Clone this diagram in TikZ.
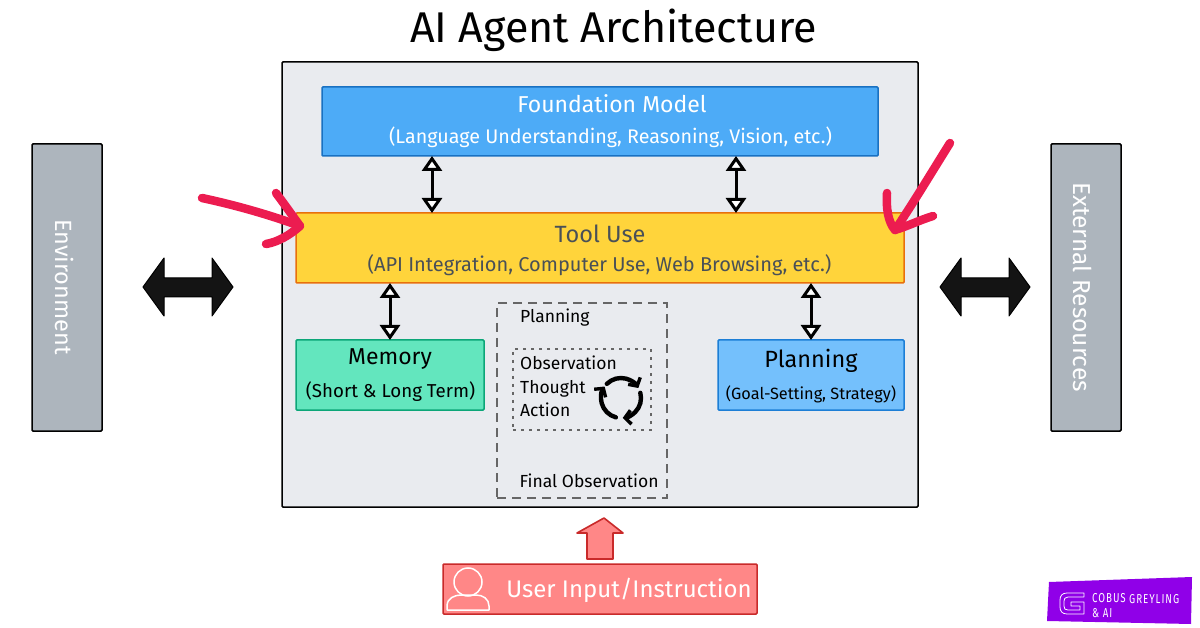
\documentclass[tikz,border=0pt]{standalone}
\usepackage{fontspec}
\setmainfont{Fira Sans}
\newfontfamily\badgefont{Fira Sans}
\usetikzlibrary{arrows.meta,shapes.arrows,calc}
\definecolor{panel}{HTML}{E9EBEF}
\definecolor{fmfill}{HTML}{4DABF7}
\definecolor{fmline}{HTML}{1971C2}
\definecolor{toolfill}{HTML}{FFD43B}
\definecolor{toolline}{HTML}{E8700C}
\definecolor{memfill}{HTML}{63E6BE}
\definecolor{memline}{HTML}{0CA678}
\definecolor{planfill}{HTML}{74C0FC}
\definecolor{planline}{HTML}{1C7ED6}
\definecolor{sidefill}{HTML}{ADB5BD}
\definecolor{userfill}{HTML}{FF8787}
\definecolor{userline}{HTML}{C92A2A}
\definecolor{hand}{HTML}{EC1C50}
\definecolor{greytext}{HTML}{495057}
\definecolor{badge}{HTML}{9000E8}
\newcommand{\fs}[1]{\fontsize{#1}{#1}\selectfont}
\tikzset{
  x=1pt,y=-1pt,
  boxnode/.style={draw,line width=1.5pt,rounded corners=1pt,inner sep=0pt,outer sep=0pt,anchor=north west},
  twoway/.style={line width=3pt,black,{Triangle[open,fill=white,length=15pt,width=20pt,line width=3pt]}-{Triangle[open,fill=white,length=15pt,width=20pt,line width=3pt]}},
  blockarrow/.style={draw=black,fill=black!92,line width=1pt,line join=round},
  handstroke/.style={draw=hand,line width=8.5pt,line cap=round,line join=round},
  tag/.style={inner sep=0pt,anchor=base west},
  cycle/.style={line width=4.4pt,black,line cap=round,-{Straight Barb[length=6pt,width=14pt,line width=3.4pt]}},
}
\begin{document}
\begin{tikzpicture}
\useasboundingbox (0,0) rectangle (1200,628);
\fill[white] (0,0) rectangle (1200,628);
\node[inner sep=0pt] (title) at (613.5,30) {\fs{43}AI Agent Architecture};

\node[boxnode,draw=black,fill=panel,minimum width=636pt,minimum height=445pt] (panel) at (282,62) {};
\node[boxnode,draw=fmline,fill=fmfill,minimum width=556pt,minimum height=69pt] (foundation) at (322,87) {};
\node[inner sep=0pt,white] (fmA) at (612,104) {\fs{23}Foundation Model};
\node[inner sep=0pt,white] (fmB) at (610.5,137.5) {\fs{19.7}(Language Understanding, Reasoning, Vision, etc.)};

\node[boxnode,draw=toolline,fill=toolfill,minimum width=608pt,minimum height=70pt] (tool) at (296,213) {};
\node[inner sep=0pt,greytext] (toolA) at (600,234) {\fs{23.5}Tool Use};
\node[inner sep=0pt,greytext] (toolB) at (599.5,265) {\fs{20}(API Integration, Computer Use, Web Browsing, etc.)};

\node[boxnode,draw=memline,fill=memfill,minimum width=188pt,minimum height=70pt] (memory) at (296,340) {};
\node[inner sep=0pt] (memA) at (390,359) {\fs{23}Memory};
\node[inner sep=0pt] (memB) at (390.5,392) {\fs{18.7}(Short \& Long Term)};

\node[boxnode,draw=planline,fill=planfill,minimum width=186pt,minimum height=70pt] (planbox) at (718,340) {};
\node[inner sep=0pt] (planA) at (811,361) {\fs{23.5}Planning};
\node[inner sep=0pt] (planB) at (811,394) {\fs{16.3}(Goal-Setting, Strategy)};

\node[draw=black!60,dash pattern=on 9pt off 6pt,line width=1.8pt,inner sep=0pt,outer sep=0pt,anchor=north west,minimum width=170pt,minimum height=195pt] (outer) at (497,303) {};
\node[draw=black!60,dash pattern=on 3pt off 5pt,line width=1.6pt,inner sep=0pt,outer sep=0pt,anchor=north west,minimum width=138pt,minimum height=81pt] (inner) at (513,349) {};
\node[tag] (t1) at (520,323) {\fs{17.5}Planning};
\node[tag] (t2) at (520,370) {\fs{17.5}Observation};
\node[tag] (t3) at (520,393) {\fs{17.5}Thought};
\node[tag] (t4) at (520,416) {\fs{17.5}Action};
\node[tag] (t5) at (519.5,487) {\fs{17.5}Final Observation};

\begin{scope}[shift={(621,398)},x=1pt,y=1pt]
\draw[cycle] (135:20pt) arc[start angle=135,end angle=30,radius=20pt];
\draw[cycle] (15:20pt) arc[start angle=15,end angle=-85,radius=20pt];
\draw[cycle] (-105:20pt) arc[start angle=-105,end angle=-215,radius=20pt];
\end{scope}

\draw[twoway] (432,0 |- foundation.south) -- (432,0 |- tool.north);
\draw[twoway] (736,0 |- foundation.south) -- (736,0 |- tool.north);
\draw[twoway] (390,0 |- tool.south) -- (390,0 |- memory.north);
\draw[twoway] (811,0 |- tool.south) -- (811,0 |- planbox.north);

\node[boxnode,draw=black,fill=sidefill,minimum width=70pt,minimum height=287pt] (env) at (32,144) {};
\node[rotate=-90,white,inner sep=0pt] (envT) at (65,287) {\fs{23.5}Environment};
\node[boxnode,draw=black,fill=sidefill,minimum width=70pt,minimum height=287pt] (ext) at (1051,144) {};
\node[rotate=-90,white,inner sep=0pt] (extT) at (1083,287) {\fs{24.5}External Resources};

\draw[blockarrow] (143,287) -- (164,258) -- (164,278) -- (212,278) -- (212,258) -- (233,287) -- (212,316) -- (212,297) -- (164,297) -- (164,316) -- cycle;
\draw[blockarrow] (940,287) -- (961,258) -- (961,278) -- (1009,278) -- (1009,258) -- (1030,287) -- (1009,316) -- (1009,297) -- (961,297) -- (961,316) -- cycle;

\draw[draw=userline,fill=userfill,line width=1.6pt,line join=round] (604,518) -- (623,533) -- (613,533) -- (613,559) -- (587,559) -- (587,533) -- (577,533) -- cycle;
\node[boxnode,draw=userline,fill=userfill,minimum width=314pt,minimum height=50pt] (user) at (443,564) {};
\node[inner sep=0pt,white] (userT) at (629,590) {\fs{24}User Input/Instruction};
\draw[white,line width=1.5pt] (468,582) circle[radius=14pt];
\draw[white,line width=1.5pt,line join=round] (447,610) -- (447,606) .. controls (447,598) and (455,595) .. (461,595) -- (476,595) .. controls (483,595) and (489,599) .. (489,606) -- (489,610) -- cycle;

\path[handstroke] (202,198) .. controls (235,205) and (270,215) .. (300,226);
\path[handstroke] (276,193) .. controls (285,205) and (292,215) .. (300,226) .. controls (290,235) and (278,242) .. (266,244);
\path[handstroke] (950,143) .. controls (930,175) and (912,205) .. (895,230);
\path[handstroke] (887,193) .. controls (886,208) and (888,222) .. (895,230) .. controls (908,226) and (920,220) .. (933,216);

\fill[badge] (1049,582) -- (1192,577) -- (1191,624) -- (1047,621) -- cycle;
\draw[white,line width=0.8pt,line join=round] (1084,593) -- (1067,593) .. controls (1062,593) and (1060,596) .. (1060,600) -- (1060,607) .. controls (1060,611) and (1062,614) .. (1067,614) -- (1084,614) -- (1084,602) -- (1071,602) -- (1071,606) -- (1080,606) -- (1080,610) -- (1068,610) .. controls (1065,610) and (1064,609) .. (1064,606) -- (1064,601) .. controls (1064,599) and (1065,597) .. (1068,597) -- (1084,597) -- cycle;
\node[rotate=-1,white,inner sep=0pt,anchor=west] (b1) at (1092,598) {\scalebox{0.74}[1]{\badgefont\fs{13}\addfontfeature{LetterSpace=11}COBUS GREYLING}};
\node[rotate=-1,white,inner sep=0pt,anchor=west] (b2) at (1092,613) {\scalebox{0.74}[1]{\badgefont\fs{13}\addfontfeature{LetterSpace=11}\&~AI}};
\end{tikzpicture}
\end{document}
